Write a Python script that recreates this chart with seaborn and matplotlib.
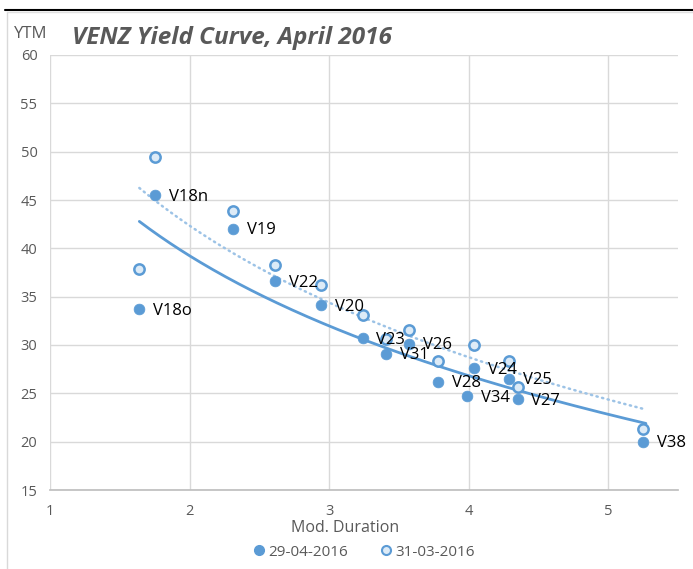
import numpy as np
import pandas as pd
import matplotlib
matplotlib.use("Agg")
import matplotlib.pyplot as plt
import seaborn as sns
from matplotlib.lines import Line2D

# ---- data ----
bonds_apr = ["V18o", "V18n", "V19", "V22", "V20", "V23", "V31", "V26", "V28", "V34", "V24", "V25", "V27", "V38"]
dur_apr = [1.64, 1.75, 2.31, 2.61, 2.94, 3.24, 3.41, 3.57, 3.78, 3.99, 4.04, 4.29, 4.35, 5.25]
ytm_apr = [33.7, 45.5, 42.0, 36.6, 34.1, 30.7, 29.1, 30.1, 26.2, 24.7, 27.6, 26.5, 24.4, 20.0]

bonds_mar = ["V18o", "V18n", "V19", "V22", "V20", "V23", "V31", "V26", "V28", "V24", "V25", "V27", "V38"]
dur_mar = [1.64, 1.75, 2.31, 2.61, 2.94, 3.24, 3.41, 3.57, 3.78, 4.04, 4.29, 4.35, 5.25]
ytm_mar = [37.9, 49.4, 43.9, 38.3, 36.2, 33.1, 30.6, 31.6, 28.3, 30.0, 28.3, 25.7, 21.3]

series_names = ["29-04-2016", "31-03-2016"]
title = "VENZ Yield Curve, April 2016"
x_ticks = [1, 2, 3, 4, 5]
y_ticks = [15, 20, 25, 30, 35, 40, 45, 50, 55, 60]

df_apr = pd.DataFrame({"dur": dur_apr, "ytm": ytm_apr, "bond": bonds_apr})
df_mar = pd.DataFrame({"dur": dur_mar, "ytm": ytm_mar, "bond": bonds_mar})

sns.set_theme(style="white")
plt.rcParams["font.family"] = ["Open Sans", "DejaVu Sans"]

BLUE = "#5B9BD5"
LIGHT = "#DDEBF7"
DOT = "#9DC3E6"
GRAY = "#595959"
GRID = "#D9D9D9"

fig = plt.figure(figsize=(6.93, 5.69), dpi=100)
ax = fig.add_axes([50 / 693, 1 - 490 / 569, 628 / 693, 435 / 569])

def log_fit(x, y):
    # logarithmic trendline y = a + b*ln(x)
    x = np.asarray(x); y = np.asarray(y)
    b, a = np.polyfit(np.log(x), y, 1)
    xs = np.linspace(x.min(), x.max() + 0.02, 200)
    return xs, a + b * np.log(xs)

xs, ys = log_fit(dur_mar, ytm_mar)
ax.plot(xs, ys, color=DOT, lw=1.8, ls=(0, (0.5, 1.8)), dash_capstyle="round", zorder=2)
xs, ys = log_fit(dur_apr, ytm_apr)
ax.plot(xs, ys, color=BLUE, lw=2, zorder=2)

sns.scatterplot(data=df_mar, x="dur", y="ytm", ax=ax, s=55, color=LIGHT,
                edgecolor=BLUE, linewidth=1.8, zorder=3, legend=False)
sns.scatterplot(data=df_apr, x="dur", y="ytm", ax=ax, s=60, color=BLUE,
                edgecolor=BLUE, linewidth=0.5, zorder=4, legend=False)

for _, r in df_apr.iterrows():
    ax.annotate(r["bond"], (r["dur"], r["ytm"]), xytext=(10, -1), textcoords="offset points",
                ha="left", va="center", fontsize=12, color="#000000", zorder=5)

ax.set_xlim(1, 5.5)
ax.set_ylim(15, 60)
ax.set_xticks(x_ticks)
ax.set_yticks(y_ticks)
ax.grid(True, color=GRID, lw=1)
ax.set_axisbelow(True)
for s in ["top", "right", "left"]:
    ax.spines[s].set_visible(False)
ax.spines["bottom"].set_color("#BFBFBF")
ax.tick_params(axis="both", length=0, labelsize=10.5, labelcolor=GRAY)
ax.tick_params(axis="x", pad=10)
ax.tick_params(axis="y", pad=9)
ax.set_xlabel("")
ax.set_ylabel("")

fig.text(345 / 693, 1 - 528 / 569, "Mod. Duration", ha="center", va="center", fontsize=11.5, color=GRAY)
fig.text(31 / 693, 1 - 34 / 569, "YTM", ha="center", va="center", fontsize=12, color=GRAY)
fig.text(72 / 693, 1 - 38 / 569, title, ha="left", va="center", fontsize=17.5,
         fontweight="bold", fontstyle="italic", color=GRAY)

handles = [
    Line2D([], [], ls="", marker="o", ms=7, color=BLUE, markeredgecolor=BLUE),
    Line2D([], [], ls="", marker="o", ms=6.5, color=LIGHT, markeredgecolor=BLUE, markeredgewidth=1.5),
]
fig.legend(handles, series_names, loc="center", bbox_to_anchor=(363 / 693, 1 - 552 / 569),
           ncol=2, frameon=False, fontsize=11, handletextpad=0.1, columnspacing=2.0,
           labelcolor=GRAY, handlelength=1.0)

# border lines (screenshot frame)
fig.add_artist(Line2D([5 / 693, 1], [1 - 10 / 569, 1 - 10 / 569], color="black", lw=1.5))
fig.add_artist(Line2D([7 / 693, 7 / 693], [0, 1 - 12 / 569], color="#D9D9D9", lw=1))
fig.add_artist(Line2D([7 / 693, 1], [1 - 12 / 569, 1 - 12 / 569], color="#E0E0E0", lw=1))

fig.savefig("out.png", dpi=100)
